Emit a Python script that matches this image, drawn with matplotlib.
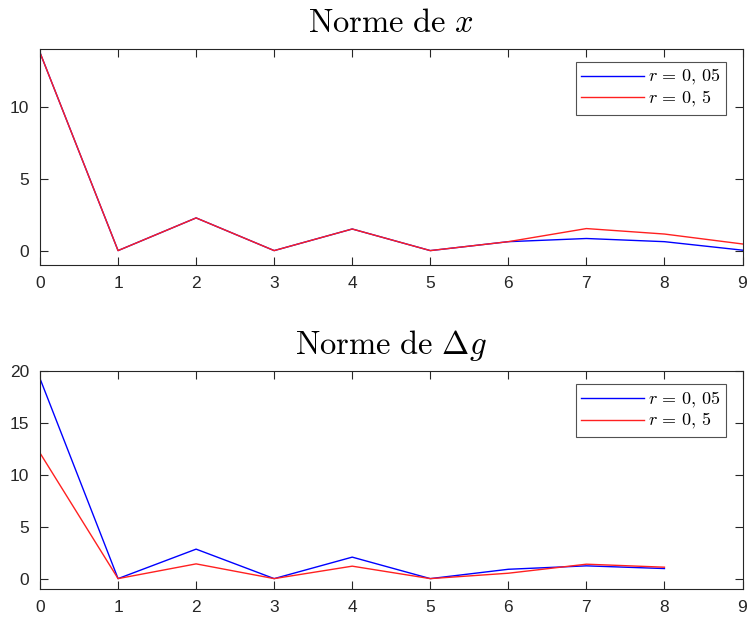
import matplotlib
matplotlib.use("Agg")
import matplotlib.pyplot as plt
import numpy as np

plt.rcParams['mathtext.fontset'] = 'cm'
plt.rcParams['font.family'] = ['Liberation Sans', 'DejaVu Sans']

iterations = [0, 1, 2, 3, 4, 5, 6, 7, 8, 9]
x_norm_r005 = [13.75, 0.0, 2.27, 0.0, 1.5, 0.0, 0.62, 0.84, 0.62, 0.03]
x_norm_r05 = [13.75, 0.0, 2.27, 0.0, 1.5, 0.0, 0.62, 1.53, 1.15, 0.46]

g_iterations = [0, 1, 2, 3, 4, 5, 6, 7, 8]
g_norm_r005 = [19.27, 0.0, 2.84, 0.0, 2.07, 0.0, 0.9, 1.23, 0.97]
g_norm_r05 = [12.1, 0.0, 1.42, 0.0, 1.2, 0.0, 0.52, 1.39, 1.1]

labels = [r'$r\,=\,0,\,05$', r'$r\,=\,0,\,5$']
titles = [r'$\mathrm{Norme\ de\ }x$', r'$\mathrm{Norme\ de\ }\Delta g$']

W, H = 748, 623
fig = plt.figure(figsize=(W / 100, H / 100), dpi=100)

ax1 = fig.add_axes([40 / W, 1 - 265 / H, 702.5 / W, 216 / H])
ax2 = fig.add_axes([40 / W, 1 - 589 / H, 702.5 / W, 218 / H])

axc = '#262626'

def style(ax, yticks, ylim):
    ax.set_xlim(0, 9)
    ax.set_ylim(*ylim)
    ax.set_xticks(range(10))
    ax.set_yticks(yticks)
    ax.tick_params(direction='in', length=6, width=0.8, colors=axc,
                   labelcolor=axc, labelsize=12.5, top=True, right=True, pad=8)
    for s in ax.spines.values():
        s.set_color(axc)
        s.set_linewidth(0.8)

ax1.plot(iterations, x_norm_r005, color='#0000ff', lw=1.0, label=labels[0])
ax1.plot(iterations, x_norm_r05, color='#ff2020', lw=1.0, label=labels[1])
style(ax1, [0, 5, 10], (-1, 14))
ax1.set_title(titles[0], fontsize=23.5, pad=12)

ax2.plot(g_iterations, g_norm_r005, color='#0000ff', lw=1.0, label=labels[0])
ax2.plot(g_iterations, g_norm_r05, color='#ff2020', lw=1.0, label=labels[1])
style(ax2, [0, 5, 10, 15, 20], (-1, 20))
ax2.set_title(titles[1], fontsize=23.5, pad=12)

for ax in (ax1, ax2):
    leg = ax.legend(loc='upper right', fontsize=13, frameon=True, fancybox=False,
                    edgecolor=axc, borderpad=0.3, handlelength=3.5,
                    handletextpad=0.2, labelspacing=0.1, borderaxespad=0,
                    bbox_to_anchor=(0.9765, 0.94))
    leg.get_frame().set_linewidth(0.8)

fig.savefig('out.png', dpi=100, facecolor='white')
